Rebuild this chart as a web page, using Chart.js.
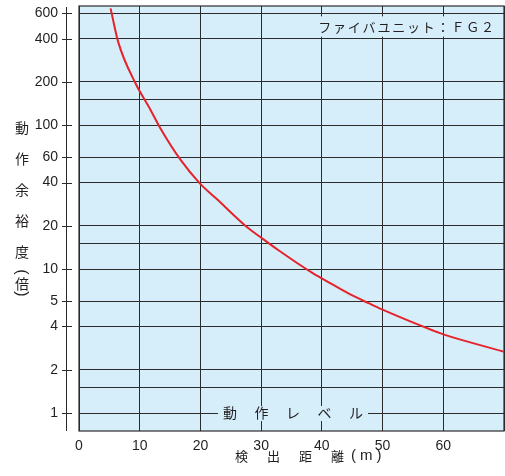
<!DOCTYPE html>
<html>
<head>
<meta charset="utf-8">
<script src="https://cdn.jsdelivr.net/npm/chart.js@4.4.0/dist/chart.umd.min.js"></script>
<style>
  html, body { margin: 0; padding: 0; background: #fff; }
  #wrap { width: 505px; height: 476px; }
</style>
</head>
<body>
<div id="wrap"><canvas id="chart" width="505" height="476"></canvas></div>
<script>
// detection distance (m) against operating margin (times)
const distance = [5.2, 6.5, 9.3, 11.7, 13.3, 16.8, 19.9, 22.7, 27.6, 30.4, 32.8, 38.3, 40.7, 44.6, 47.7, 49.9, 58.4, 60.0, 70];
const margin = [650, 374, 196, 130, 97, 57, 39.5, 30.7, 19.7, 16.1, 13.6, 9.5, 8.3, 6.7, 5.8, 5.25, 3.73, 3.52, 2.67];

const xTickValues = [0, 10, 20, 30, 40, 50, 60, 70];
const xTickLabels = ['0', '10', '20', '30', '40', '50', '60', ''];
const yGridValues = [1, 1.5, 2, 4, 6, 10, 15, 20, 40, 60, 100, 150, 200, 400, 600];
const yTickValues = [1, 2, 4, 6, 10, 20, 40, 60, 100, 200, 400, 600];
const yTickLabels = ['1', '2', '4', '5', '10', '20', '40', '60', '100', '200', '400', '600'];

const unitLabel = 'ファイバユニット：ＦＧ２';
const levelLabel = '動作レベル';
const yTitle = ['動', '作', '余', '裕', '度'];
const yUnit = '倍';
const xTitle = '検出距離';

const BG = '#d6edfa';
const INK = '#231f20';
const LINE = '#2b2b2b';
const JP = '"Noto Sans CJK JP", sans-serif';
const NUM = '"Liberation Sans", Arial, sans-serif';

// draw text one glyph at a time with a fixed gap
function spaced(ctx, text, x, y, gap) {
  for (const ch of text) {
    ctx.fillText(ch, x, y);
    x += ctx.measureText(ch).width + gap;
  }
  return x - gap;
}
function spacedWidth(ctx, text, gap) {
  let w = 0;
  for (const ch of text) w += ctx.measureText(ch).width + gap;
  return w - gap;
}
// a paren turned on its side, as in vertical setting
function sideways(ctx, ch, x, y) {
  ctx.save();
  ctx.translate(x, y);
  ctx.rotate(Math.PI / 2);
  ctx.fillText(ch, 0, 0);
  ctx.restore();
}

const decor = {
  id: 'decor',
  beforeDraw(chart) {
    const { ctx, chartArea: a } = chart;
    ctx.save();
    ctx.fillStyle = BG;
    ctx.fillRect(a.left, a.top, a.right - a.left, a.bottom - a.top);
    ctx.restore();
  },
  beforeDatasetsDraw(chart) {
    const { ctx, chartArea: a, scales: { y } } = chart;
    ctx.save();
    ctx.textBaseline = 'middle';
    ctx.textAlign = 'left';

    // unit label, boxed between the 600 and 400 lines
    ctx.font = '13px ' + JP;
    const uw = spacedWidth(ctx, unitLabel, 1.8);
    const ux = a.right - 10 - uw;
    const top = y.getPixelForValue(600) + 3;
    const bot = y.getPixelForValue(400) - 2;
    ctx.fillStyle = BG;
    ctx.fillRect(ux - 4, top, uw + 10, bot - top);
    ctx.fillStyle = INK;
    spaced(ctx, unitLabel, ux, (top + bot) / 2 + 1, 1.8);

    // operating level label on the 1x line
    ctx.font = '14px ' + JP;
    const lw = spacedWidth(ctx, levelLabel, 17.5);
    const ly = y.getPixelForValue(1);
    const lx = 293 - lw / 2;
    ctx.fillStyle = BG;
    ctx.fillRect(lx - 5, ly - 7, lw + 10, 15);
    ctx.fillStyle = INK;
    spaced(ctx, levelLabel, lx, ly, 17.5);

    // frame
    ctx.strokeStyle = LINE;
    ctx.lineWidth = 1.2;
    ctx.strokeRect(a.left, a.top, a.right - a.left, a.bottom - a.top);
    ctx.restore();
  },
  afterDraw(chart) {
    const { ctx, chartArea: a, scales: { y } } = chart;
    ctx.save();
    // detached y axis line with ticks
    ctx.strokeStyle = LINE;
    ctx.lineWidth = 1;
    ctx.beginPath();
    ctx.moveTo(66.5, a.top + 1);
    ctx.lineTo(66.5, a.bottom);
    yTickValues.forEach(v => {
      const py = Math.round(y.getPixelForValue(v)) + 0.5;
      ctx.moveTo(62, py);
      ctx.lineTo(72, py);
    });
    ctx.stroke();

    // vertical y title
    ctx.fillStyle = INK;
    ctx.textAlign = 'center';
    ctx.textBaseline = 'middle';
    ctx.font = '14px ' + JP;
    yTitle.forEach((ch, i) => ctx.fillText(ch, 22, 128 + i * 31));
    ctx.fillText(yUnit, 22, 283.5);
    ctx.font = '16px ' + NUM;
    sideways(ctx, '(', 21, 272);
    sideways(ctx, ')', 21, 294);

    // x title
    ctx.textAlign = 'left';
    ctx.font = '13px ' + JP;
    spaced(ctx, xTitle, 235, 456, 19);
    ctx.font = '15px ' + NUM;
    spaced(ctx, '(m)', 351, 456, 4);
    ctx.restore();
  }
};

new Chart(document.getElementById('chart'), {
  type: 'line',
  data: {
    datasets: [{
      data: distance.map((d, i) => ({ x: d, y: margin[i] })),
      borderColor: '#e5232b',
      borderWidth: 2,
      pointRadius: 0,
      cubicInterpolationMode: 'monotone',
      fill: false
    }]
  },
  options: {
    responsive: false,
    animation: false,
    events: [],
    layout: { padding: { top: 6, right: 1, left: 0, bottom: 0 } },
    plugins: { legend: { display: false }, tooltip: { enabled: false } },
    scales: {
      x: {
        type: 'linear',
        min: 0,
        max: 70,
        afterBuildTicks(s) { s.ticks = xTickValues.map(v => ({ value: v })); },
        afterFit(s) { s.height = 45; s.paddingLeft = 0; s.paddingRight = 0; },
        ticks: {
          autoSkip: false,
          maxRotation: 0,
          padding: 7,
          color: INK,
          font: { family: NUM, size: 14 },
          callback: v => xTickLabels[xTickValues.indexOf(v)] ?? ''
        },
        grid: { color: LINE, lineWidth: 1, drawTicks: false },
        border: { display: false }
      },
      y: {
        type: 'logarithmic',
        min: 0.75,
        max: 675,
        afterBuildTicks(s) { s.ticks = yGridValues.map(v => ({ value: v })); },
        afterFit(s) { s.width = 79; s.paddingTop = 0; s.paddingBottom = 0; },
        ticks: {
          autoSkip: false,
          padding: 21,
          color: INK,
          font: { family: NUM, size: 14 },
          callback: v => {
            const i = yTickValues.indexOf(v);
            return i < 0 ? '' : yTickLabels[i];
          }
        },
        grid: { color: LINE, lineWidth: 1, drawTicks: false },
        border: { display: false }
      }
    }
  },
  plugins: [decor]
});
</script>
</body>
</html>
